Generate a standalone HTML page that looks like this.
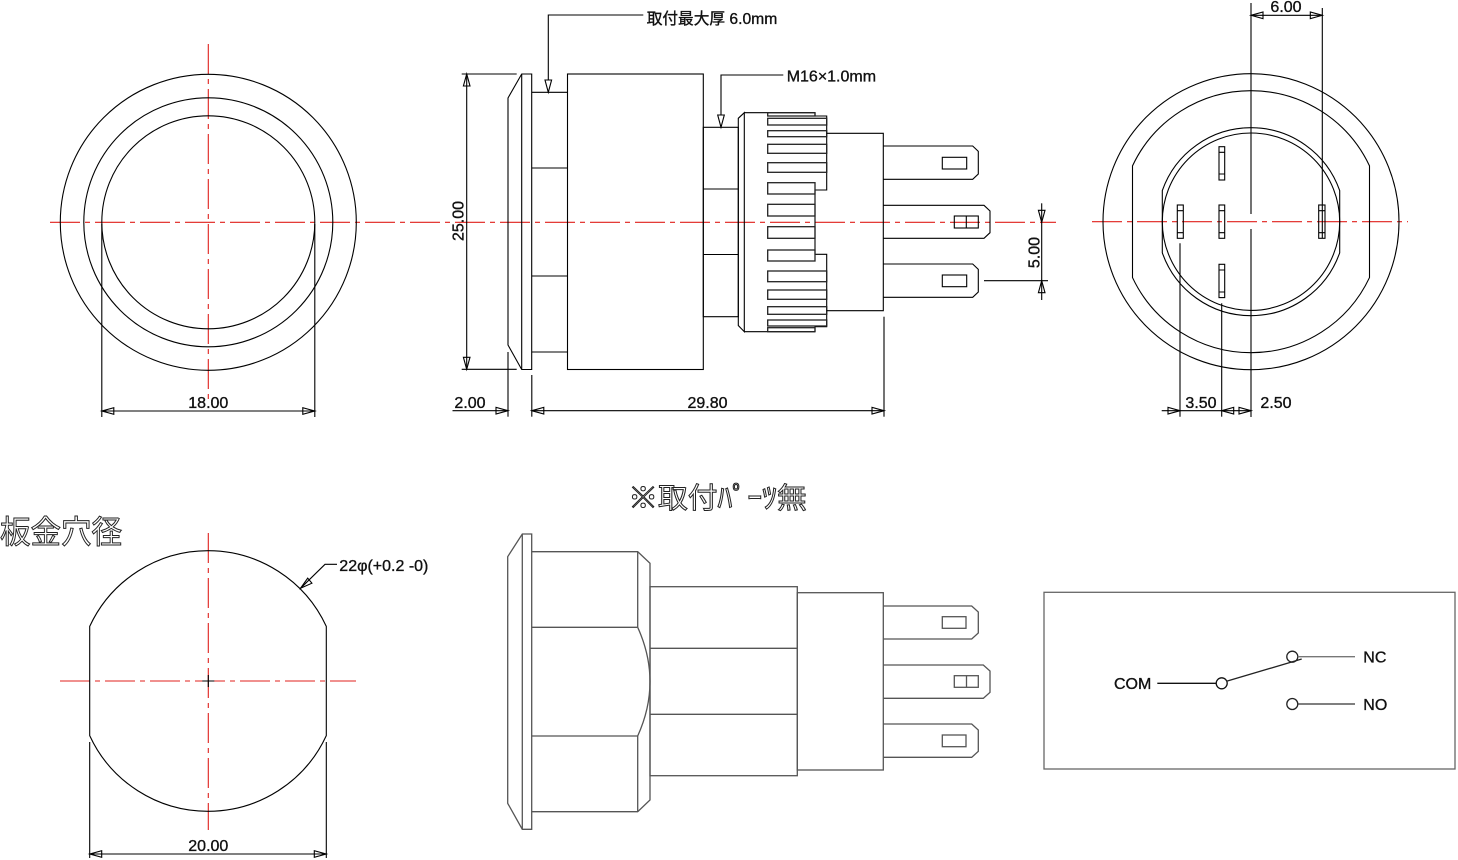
<!DOCTYPE html>
<html><head><meta charset="utf-8"><style>
html,body{margin:0;padding:0;background:#fff;}
svg{display:block}
text{font-family:"Liberation Sans","Noto Sans CJK JP",sans-serif;}
</style></head><body>
<svg width="1458" height="860" viewBox="0 0 1458 860" xmlns="http://www.w3.org/2000/svg">
<!-- red center lines -->
<g stroke="#e0201c" stroke-width="1.1" fill="none" stroke-dasharray="30 5 5 5">
<line x1="50" y1="222.3" x2="1056" y2="222.3"/>
<line x1="208.3" y1="44" x2="208.3" y2="399"/>
<line x1="1092" y1="221.7" x2="1408" y2="221.7"/>
<line x1="60" y1="681" x2="356" y2="681"/>
<line x1="208.3" y1="533" x2="208.3" y2="830"/>
</g>

<g fill="none" stroke="#000" stroke-width="1.1">
<!-- left front view -->
<circle cx="208.3" cy="222.3" r="148"/>
<circle cx="208.3" cy="222.3" r="124.5"/>
<circle cx="208.3" cy="222.3" r="106.5"/>
<line x1="101.8" y1="224" x2="101.8" y2="417"/>
<line x1="314.8" y1="224" x2="314.8" y2="417"/>
<line x1="101.8" y1="411" x2="314.8" y2="411"/>
<polygon points="101.8,411 113.8,407.7 113.8,414.3"/>
<polygon points="314.8,411 302.8,407.7 302.8,414.3"/>

<!-- side view -->
<path d="M508,98 L521.7,74 L531.7,74 L531.7,369.5 L521.7,369.5 L508,345 Z"/>
<line x1="521.7" y1="74" x2="521.7" y2="369.5"/>
<path d="M531.7,92.3 H567.5 M531.7,168 H567.5 M531.7,276 H567.5 M531.7,352 H567.5"/>
<rect x="567.5" y="74" width="135.8" height="295.5"/>
<rect x="703.3" y="127.3" width="35" height="189.4"/>
<path d="M703.3,189 H738.3 M703.3,254.5 H738.3"/>
<path d="M744.3,112.7 L738.3,118.3 L738.3,325.5 L744.3,331.7 Z"/>
<path d="M744.3,112.7 H815 M744.3,331.7 H815"/>
<path d="M815,112.7 L815,116 L826.7,116 L826.7,190 L815,190 L815,254.3 L826.7,254.3 L826.7,326.7 L815,326.7 L815,331.7"/>
<g stroke="#222" stroke-width="1.3">
<rect x="767.7" y="112.7" width="47.3" height="3.3"/>
<rect x="767.7" y="118.3" width="59" height="6.7"/>
<rect x="767.7" y="130.7" width="59" height="6"/>
<rect x="767.7" y="144.3" width="59" height="9"/>
<rect x="767.7" y="162.7" width="59" height="9.6"/>
<rect x="767.7" y="182.7" width="47.3" height="11.3"/>
<rect x="767.7" y="204.3" width="47.3" height="11.7"/>
<rect x="767.7" y="226.7" width="47.3" height="11.6"/>
<rect x="767.7" y="250" width="47.3" height="11"/>
<rect x="767.7" y="271" width="59" height="10.7"/>
<rect x="767.7" y="290" width="59" height="9.3"/>
<rect x="767.7" y="306.7" width="59" height="7.6"/>
<rect x="767.7" y="320" width="59" height="6"/>
<rect x="767.7" y="327.7" width="47.3" height="4"/>
</g>
<path d="M826.7,133.3 H883.3 V310.7 H826.7"/>
<path d="M883.3,146 L972.7,146 L978.3,151.3 L978.3,174 L972.7,179.3 L883.3,179.3"/>
<path d="M883.3,205.3 L984,205.3 L990,211 L990,232.7 L984,238.3 L883.3,238.3"/>
<path d="M883.3,264 L972.7,264 L978.3,269.3 L978.3,292 L972.7,297.3 L883.3,297.3"/>
<rect x="942.3" y="157.3" width="24.4" height="11.7"/>
<rect x="954.3" y="216" width="24" height="12"/>
<line x1="966.3" y1="216" x2="966.3" y2="228"/>
<rect x="942.3" y="275" width="24.4" height="11.7"/>

<!-- side view dims -->
<path d="M548.3,80 V15 H643.3"/>
<polygon points="548.3,92.3 545,80 551.6,80"/>
<path d="M721,115 V75 H783.3"/>
<polygon points="721,127.3 717.7,115 724.3,115"/>
<line x1="461.7" y1="74" x2="516.7" y2="74"/>
<line x1="461.7" y1="369.3" x2="516.7" y2="369.3"/>
<line x1="466.7" y1="74" x2="466.7" y2="369.3"/>
<polygon points="466.7,74 463.4,86 470,86"/>
<polygon points="466.7,369.3 463.4,357.3 470,357.3"/>
<line x1="508" y1="352" x2="508" y2="416.7"/>
<line x1="531.8" y1="375" x2="531.8" y2="416.7"/>
<line x1="884" y1="316.7" x2="884" y2="416.7"/>
<line x1="452.5" y1="410.7" x2="508" y2="410.7"/>
<line x1="531.8" y1="410.7" x2="884" y2="410.7"/>
<polygon points="508,410.7 496,407.4 496,414"/>
<polygon points="531.8,410.7 543.8,407.4 543.8,414"/>
<polygon points="884,410.7 872,407.4 872,414"/>
<line x1="984" y1="280.7" x2="1048" y2="280.7"/>
<line x1="1041.7" y1="203.3" x2="1041.7" y2="300"/>
<polygon points="1041.7,222.3 1038.4,210.3 1045,210.3"/>
<polygon points="1041.7,280.7 1038.4,292.7 1045,292.7"/>

<!-- right view -->
<circle cx="1251" cy="221.7" r="148"/>
<path d="M1132.5,165.85 A131,131 0 0 1 1369.5,165.85 L1369.5,277.55 A131,131 0 0 1 1132.5,277.55 Z"/>
<path d="M1162.3,190.6 A94,94 0 0 1 1339.7,190.6 L1339.7,252.8 A94,94 0 0 1 1162.3,252.8 Z"/>
<circle cx="1251" cy="221.7" r="88.7"/>
<line x1="1251" y1="3" x2="1251" y2="214"/>
<line x1="1251" y1="229" x2="1251" y2="417"/>
<line x1="1322.3" y1="8" x2="1322.3" y2="238"/>
<line x1="1251" y1="15.3" x2="1322.3" y2="15.3"/>
<polygon points="1251,15.3 1263,12 1263,18.6"/>
<polygon points="1322.3,15.3 1310.3,12 1310.3,18.6"/>
<rect x="1177.3" y="205" width="6" height="33.3"/>
<path d="M1177.3,210.7 h6 M1177.3,232.7 h6"/>
<rect x="1219" y="146.7" width="5.7" height="33.3"/>
<path d="M1219,152.3 h5.7 M1219,174 h5.7"/>
<rect x="1219" y="205" width="5.7" height="33.3"/>
<path d="M1219,210.7 h5.7 M1219,232.7 h5.7"/>
<rect x="1219" y="264.3" width="5.7" height="33.3"/>
<path d="M1219,270 h5.7 M1219,292 h5.7"/>
<rect x="1318.7" y="205" width="6.3" height="33.3"/>
<path d="M1318.7,210.7 h6.3 M1318.7,232.7 h6.3"/>
<line x1="1180" y1="243.3" x2="1180" y2="416.7"/>
<line x1="1221.7" y1="303.3" x2="1221.7" y2="416.7"/>
<line x1="1161.7" y1="410.7" x2="1251" y2="410.7"/>
<polygon points="1180,410.7 1168,407.4 1168,414"/>
<polygon points="1221.7,410.7 1233.7,407.4 1233.7,414"/>
<polygon points="1251,410.7 1239,407.4 1239,414"/>

<!-- bottom left hole -->
<path d="M89.7,626.4 A130.3,130.3 0 0 1 326.3,626.4 L326.3,735.6 A130.3,130.3 0 0 1 89.7,735.6 Z"/>
<path d="M202.3,681 h12 M208.3,675 v12"/>
<line x1="89.7" y1="742" x2="89.7" y2="858"/>
<line x1="326.3" y1="742" x2="326.3" y2="858"/>
<line x1="89.7" y1="854" x2="326.3" y2="854"/>
<polygon points="89.7,854 101.7,850.7 101.7,857.3"/>
<polygon points="326.3,854 314.3,850.7 314.3,857.3"/>
<path d="M300.5,588.3 L325,564.3 H337"/>
<polygon points="300.5,588.3 311.9,583.2 307.7,578.2"/>
</g>

<!-- bottom middle view (gray) -->
<g fill="none" stroke="#555" stroke-width="1.3">
<path d="M507.7,556.7 L522.3,534 L531.7,534 L531.7,829.3 L522.3,829.3 L507.7,803.3 Z"/>
<line x1="522.3" y1="534" x2="522.3" y2="829.3"/>
<path d="M531.7,551.7 H637.7 L650,563.3 V800 L637.7,811.7 H531.7"/>
<path d="M531.7,627.3 H637.7 M531.7,736 H637.7"/>
<path d="M637.7,551.7 V627.3 M637.7,736 V811.7"/>
<path d="M637.7,627.3 Q662.3,681.7 637.7,736"/>
<rect x="650" y="586.7" width="147.3" height="189"/>
<path d="M650,648.3 H797.3 M650,714.3 H797.3"/>
<rect x="797.3" y="592.7" width="86" height="177.3"/>
<path d="M883.3,606 L971.7,606 L978.3,612 L978.3,633 L971.7,639 L883.3,639"/>
<path d="M883.3,665 L983.3,665 L990,671 L990,692.3 L983.3,698.3 L883.3,698.3"/>
<path d="M883.3,724 L971.7,724 L978.3,730 L978.3,751.3 L971.7,757.3 L883.3,757.3"/>
<rect x="942.3" y="616.7" width="23.7" height="11.6"/>
<rect x="954.3" y="675.7" width="24" height="11.6"/>
<line x1="966.5" y1="675.7" x2="966.5" y2="687.3"/>
<rect x="942.3" y="735" width="23.7" height="11.7"/>
</g>

<!-- schematic -->
<g fill="none" stroke-width="1.3">
<rect x="1044" y="592.3" width="411" height="176.7" stroke="#666"/>
<line x1="1157.3" y1="683.3" x2="1216.2" y2="683.3" stroke="#111"/>
<circle cx="1221.7" cy="683.3" r="5.5" stroke="#111"/>
<line x1="1226.5" y1="681.3" x2="1301.7" y2="659" stroke="#222"/>
<circle cx="1292.3" cy="656.7" r="5.5" stroke="#222"/>
<line x1="1297.8" y1="656.7" x2="1355" y2="656.7" stroke="#777"/>
<circle cx="1292.3" cy="704" r="5.5" stroke="#222"/>
<line x1="1297.8" y1="704" x2="1355" y2="704" stroke="#333"/>
</g>

<!-- texts -->
<g font-size="16" fill="#111" stroke="#111" stroke-width="0.35">
<text x="208.3" y="408" text-anchor="middle">18.00</text>
<text x="470" y="408" text-anchor="middle">2.00</text>
<text x="707.5" y="408" text-anchor="middle">29.80</text>
<text transform="translate(463.5,221) rotate(-90)" text-anchor="middle">25.00</text>
<text transform="translate(1039.5,252.5) rotate(-90)" text-anchor="middle">5.00</text>
<text x="1286" y="12" text-anchor="middle">6.00</text>
<text x="1201" y="408" text-anchor="middle">3.50</text>
<text x="1276" y="408" text-anchor="middle">2.50</text>
<text x="208.3" y="851" text-anchor="middle">20.00</text>
<text x="646.7" y="24" textLength="130.6" lengthAdjust="spacingAndGlyphs">取付最大厚 6.0mm</text>
<text x="786.7" y="81.5">M16×1.0mm</text>
<text x="339.3" y="571">22φ(+0.2 -0)</text>
<text x="1114" y="689">COM</text>
<text x="1363.3" y="662.5">NC</text>
<text x="1363.3" y="709.8">NO</text>
</g>
<text x="0" y="543" font-size="32" fill="#fff" stroke="#222" stroke-width="1" textLength="122" lengthAdjust="spacingAndGlyphs" style="font-family:'Noto Sans CJK JP',sans-serif">板金穴径</text>
<text x="628.3" y="508" font-size="29" fill="#fff" stroke="#222" stroke-width="1" textLength="178.4" lengthAdjust="spacingAndGlyphs" style="font-family:'Noto Sans CJK JP',sans-serif">※取付ﾊﾟｰﾂ無</text>
</svg>
</body></html>
